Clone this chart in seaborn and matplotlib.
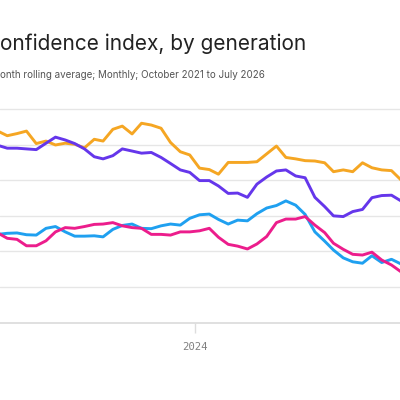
import pandas as pd
import matplotlib
matplotlib.use("Agg")
import matplotlib.pyplot as plt
import seaborn as sns

# =====================================================
# 1. DATA (monthly, Apr 2022 - Oct 2025)
# =====================================================

months = pd.date_range("2022-04-01", "2025-10-01", freq="MS") + pd.Timedelta(days=14)

orange = [83.8, 82.5, 83.1, 83.8, 80.3, 81.0, 79.9, 80.4, 80.1, 79.1,
          81.5, 81.0, 84.3, 85.2, 83.0, 86.0, 85.5, 84.6, 80.6, 78.0,
          77.1, 73.4, 73.0, 71.7, 75.0, 75.0, 75.0, 75.2, 77.4, 79.6,
          76.4, 76.0, 75.5, 75.4, 74.9, 72.4, 72.9, 72.4, 74.9, 73.5,
          72.9, 72.7, 70.1]

purple = [79.8, 79.0, 79.0, 78.8, 78.6, 80.4, 82.1, 81.3, 80.3, 78.8,
          76.6, 76.0, 76.9, 78.8, 78.2, 77.6, 77.8, 76.4, 74.7, 72.9,
          72.2, 69.9, 69.9, 68.4, 66.3, 66.4, 65.2, 68.9, 70.9, 72.6,
          72.9, 71.2, 70.7, 65.2, 62.6, 60.0, 59.8, 61.2, 61.8, 65.1,
          65.7, 65.8, 64.2]

blue = [54.8, 55.1, 55.2, 54.7, 54.6, 56.5, 57.0, 55.5, 54.3, 54.3,
        54.4, 54.1, 56.2, 57.3, 57.7, 56.5, 56.4, 57.2, 57.7, 57.4,
        59.3, 60.3, 60.5, 59.0, 57.7, 58.8, 58.6, 60.6, 62.2, 62.9,
        64.2, 63.0, 60.4, 55.5, 52.9, 50.4, 48.2, 47.1, 46.7, 48.8,
        46.9, 47.8, 46.5]

pink = [55.2, 53.7, 53.4, 51.6, 51.6, 53.0, 55.5, 56.7, 56.5, 57.0,
        57.6, 57.7, 58.1, 57.2, 56.7, 56.5, 54.8, 54.8, 54.6, 55.5,
        55.5, 55.8, 56.5, 54.0, 52.0, 51.5, 50.7, 52.1, 54.2, 58.1,
        59.1, 59.1, 59.8, 57.4, 55.3, 52.3, 50.6, 49.2, 49.0, 49.8,
        47.6, 46.2, 44.3]

series_names = ["orange", "purple", "blue", "pink"]
colors = ["#F5A623", "#6536EB", "#1FA0F0", "#EC1D8C"]
gridlines = [30, 40, 50, 60, 70, 80, 90]
tick_dates = [pd.Timestamp("2024-01-01")]
tick_labels = ["2024"]

df = pd.DataFrame({"date": months, "orange": orange, "purple": purple,
                   "blue": blue, "pink": pink})
long_df = df.melt(id_vars="date", var_name="series", value_name="value")

# =====================================================
# 2. PLOT
# =====================================================

sns.set_theme(style="white")
plt.rcParams["font.family"] = ["Inter", "DejaVu Sans"]

fig = plt.figure(figsize=(4, 4), dpi=100)
ax = fig.add_axes([0, 0.19325, 1, 0.55675])

for g in gridlines[1:]:
    ax.axhline(g, color="#e6e6e6", lw=1, zorder=0)

sns.lineplot(data=long_df, x="date", y="value", hue="series",
             hue_order=series_names, palette=colors, lw=2.1,
             legend=False, ax=ax)

ax.set_xlim(pd.Timestamp("2022-04-22"), pd.Timestamp("2025-10-12"))
ax.set_ylim(30, 92.53)

ax.set_yticks([])
ax.set_xticks(tick_dates)
ax.set_xticklabels(tick_labels, fontfamily="DejaVu Sans Mono")
ax.tick_params(axis="x", bottom=True, length=7.2, width=1, color="#dddddd",
               pad=7, labelsize=7.7, labelcolor="#808080")

ax.set_xlabel("")
ax.set_ylabel("")
for side in ["top", "left", "right"]:
    ax.spines[side].set_visible(False)
ax.spines["bottom"].set_color("#dddddd")
ax.spines["bottom"].set_linewidth(1.3)

fig.text(0.0, 0.875, "onfidence index, by generation", ha="left",
         va="baseline", fontsize=15, color="#222222")
fig.text(0.0, 0.805, "onth rolling average; Monthly; October 2021 to July 2026",
         ha="left", va="baseline", fontsize=7.1, color="#555555")

fig.savefig("out.png", dpi=100, facecolor="white")
